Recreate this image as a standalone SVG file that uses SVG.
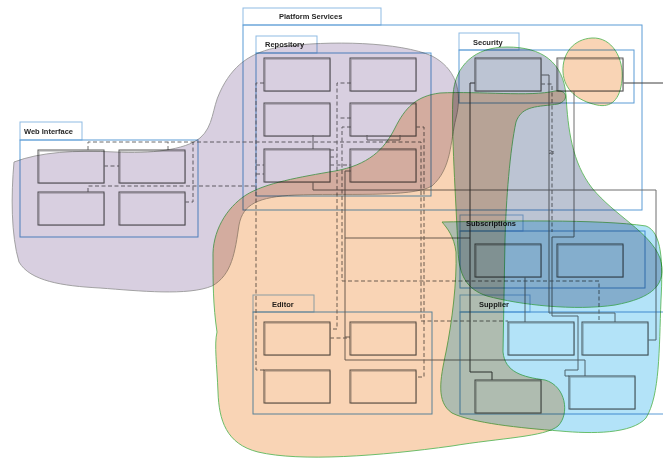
<svg xmlns="http://www.w3.org/2000/svg" width="663" height="459" viewBox="0 0 663 459">
  <style>
    .frame { fill: none; stroke: #5b9bd5; stroke-width: 1; }
    .tab { fill: none; stroke: #8fbbe3; stroke-width: 1; }
    .title { font-family: "Liberation Sans", Arial, sans-serif; font-size: 7.5px; font-weight: bold; fill: #262626; }
    .box { fill: none; stroke: #5a5a5a; stroke-width: 1; }
    .box2 { fill: none; stroke: #b4b4b4; stroke-width: 0.8; }
    .c { fill: none; stroke: #6e6e6e; stroke-width: 1; }
    .cd { fill: none; stroke: #3f3f3f; stroke-width: 1; }
    .d { fill: none; stroke: #6e6e6e; stroke-width: 1; stroke-dasharray: 4 2.5; }
    .blob { mix-blend-mode: multiply; stroke-width: 0.9; }
    .note { font-family: "Liberation Sans", Arial, sans-serif; font-size: 5px; fill: #555; }
  </style>
  <defs>
    <g id="nodebox">
      <rect class="box2" x="1.2" y="1.2" width="65" height="32"/>
      <rect class="box" x="0" y="0" width="66" height="33"/>
    </g>
  </defs>

  <rect x="0" y="0" width="663" height="459" fill="#ffffff"/>

  <!-- packages -->
  <g id="platform-services">
    <rect class="tab" x="243" y="8" width="138" height="17"/>
    <rect class="frame" x="243" y="25" width="399" height="185"/>
    <text class="title" x="279" y="19">Platform Services</text>
  </g>
  <g id="repository">
    <rect class="tab" x="256" y="36" width="61" height="17"/>
    <rect class="frame" x="256" y="53" width="175" height="143"/>
    <text class="title" x="265" y="47">Repository</text>
  </g>
  <g id="web-interface">
    <rect class="tab" x="20" y="122" width="62" height="18"/>
    <rect class="frame" x="20" y="140" width="178" height="97"/>
    <text class="title" x="24" y="134">Web Interface</text>
  </g>
  <g id="security">
    <rect class="tab" x="459" y="33" width="60" height="17"/>
    <rect class="frame" x="459" y="50" width="175" height="53"/>
    <text class="title" x="473" y="45">Security</text>
  </g>
  <g id="subscriptions">
    <rect class="tab" x="460" y="215" width="63" height="16"/>
    <rect class="frame" x="460" y="231" width="185" height="57"/>
    <text class="title" x="466" y="226">Subscriptions</text>
  </g>
  <g id="supplier">
    <rect class="tab" x="460" y="295" width="70" height="17"/>
    <rect class="frame" x="460" y="312" width="215" height="102"/>
    <text class="title" x="479" y="307">Supplier</text>
  </g>
  <g id="editor">
    <rect class="tab" x="253" y="295" width="61" height="17"/>
    <rect class="frame" x="253" y="312" width="179" height="102"/>
    <text class="title" x="272" y="307">Editor</text>
  </g>

  <!-- connectors -->
  <g id="connectors">
    <path class="c" d="M313,135 V149"/>
    <path class="c" d="M367,135 V140 H400 V135"/>
    <path class="c" d="M313,182 V190 H656 V340 H648"/>
    <path class="c" d="M351,171 H345 V360 H585 V376"/>
    <path class="c" d="M345,337 H350"/>
    <path class="c" d="M345,238 H470"/>
    <path class="cd" d="M475,83 H470 V372 H492 V380"/>
    <path class="c" d="M541,75 H549 V313 H615 V322"/>
    <path class="c" d="M574,91 V237 H552 V316 H578 V370 H565 V376 H569"/>
    <path class="cd" d="M623,83 H663"/>
    <path class="c" d="M525,277 V322"/>

    <path class="d" d="M104,166 H119"/>
    <path class="d" d="M88,150 V142 H421 V321 H508"/>
    <path class="d" d="M168,150 V142"/>
    <path class="d" d="M185,202 H193 V142"/>
    <path class="d" d="M88,192 V186 H256"/>
    <path class="d" d="M264,83 H256 V370 H264"/>
    <path class="d" d="M256,165 H264 M256,174 H264"/>
    <path class="d" d="M351,83 H337 V329 H330"/>
    <path class="d" d="M351,127 H342 V281 H599 V322"/>
    <path class="d" d="M351,118 H338"/>
    <path class="d" d="M330,165 H351"/>
    <path class="d" d="M330,150 H337 M330,157 H337"/>
    <path class="d" d="M416,127 H424 V377 H416"/>
    <path class="d" d="M330,338 H350"/>
    <path class="d" d="M541,84 H552 V232"/>
    <text class="note" x="549" y="154">2x</text>
  </g>

  <!-- nodes -->
  <g id="repo-1"><use href="#nodebox" x="264" y="58"/></g>
  <g id="repo-2"><use href="#nodebox" x="350" y="58"/></g>
  <g id="repo-3"><use href="#nodebox" x="264" y="103"/></g>
  <g id="repo-4"><use href="#nodebox" x="350" y="103"/></g>
  <g id="repo-5"><use href="#nodebox" x="264" y="149"/></g>
  <g id="repo-6"><use href="#nodebox" x="350" y="149"/></g>
  <g id="web-1"><use href="#nodebox" x="38" y="150"/></g>
  <g id="web-2"><use href="#nodebox" x="119" y="150"/></g>
  <g id="web-3"><use href="#nodebox" x="38" y="192"/></g>
  <g id="web-4"><use href="#nodebox" x="119" y="192"/></g>
  <g id="sec-1"><use href="#nodebox" x="475" y="58"/></g>
  <g id="sec-2"><use href="#nodebox" x="557" y="58"/></g>
  <g id="sub-1"><use href="#nodebox" x="475" y="244"/></g>
  <g id="sub-2"><use href="#nodebox" x="557" y="244"/></g>
  <g id="sup-1"><use href="#nodebox" x="508" y="322"/></g>
  <g id="sup-2"><use href="#nodebox" x="582" y="322"/></g>
  <g id="sup-3"><use href="#nodebox" x="475" y="380"/></g>
  <g id="sup-4"><use href="#nodebox" x="569" y="376"/></g>
  <g id="edit-1"><use href="#nodebox" x="264" y="322"/></g>
  <g id="edit-2"><use href="#nodebox" x="350" y="322"/></g>
  <g id="edit-3"><use href="#nodebox" x="264" y="370"/></g>
  <g id="edit-4"><use href="#nodebox" x="350" y="370"/></g>

  <!-- highlighted regions -->
  <g id="regions">
    <path class="blob" fill="#d8cfe0" stroke="#9a9a9a" d="M14,162 C40,152 75,150 115,152 C150,154 185,150 200,138 C214,126 212,108 220,92 C232,66 250,52 280,47 C330,40 400,42 432,56 C455,68 463,90 456,118 C450,142 452,168 432,186 C412,198 340,193 295,195 C258,197 243,204 239,225 C235,252 232,275 212,286 C188,296 140,291 100,288 C62,286 30,281 19,262 C11,235 11,195 14,162 Z"/>
    <path class="blob" fill="#f9d4b5" stroke="#5cb85c" d="M213,258 C212,232 226,208 246,195 C265,183 300,177 335,171 C368,165 384,150 395,128 C405,108 416,96 440,93 C480,91 530,97 555,91 C568,89 569,101 558,104 C538,107 522,105 516,122 C510,150 506,200 505,240 L503,352 C505,372 522,377 545,380 C566,386 570,414 558,426 C545,437 500,438 452,446 C380,456 300,462 258,452 C226,444 219,420 218,392 C217,365 214,345 217,332 C213,305 213,282 213,258 Z"/>
    <path class="blob" fill="#bcc4d3" stroke="#5cb85c" d="M453,95 C455,65 475,47 507,47 C542,47 563,62 566,95 C568,130 572,162 592,188 C615,216 650,232 660,258 C668,285 652,298 615,305 C575,311 520,305 487,296 C466,289 459,275 458,250 C456,200 451,130 453,95 Z"/>
    <path class="blob" fill="#b3e3f8" stroke="#5cb85c" d="M442,222 C500,221 600,219 646,226 C662,232 663,262 661,300 C659,350 660,395 646,418 C632,434 592,434 560,431 C520,428 472,423 452,413 C436,402 440,380 446,352 C452,322 457,282 456,252 C454,236 447,228 442,222 Z"/>
    <path class="blob" fill="#f9d4b5" stroke="#5cb85c" d="M592,38 C612,37 624,58 622,80 C620,100 611,108 597,105 C578,101 564,90 563,72 C562,53 574,39 592,38 Z"/>
  </g>
</svg>
